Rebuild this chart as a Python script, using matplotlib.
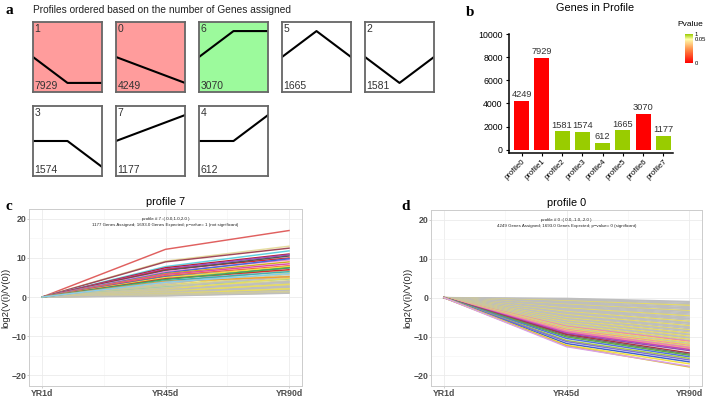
"""
plot.py

Redraws the STEM profile figure: profile boxes, gene counts and two profile line plots.
"""
import matplotlib
matplotlib.use("Agg")
import matplotlib.pyplot as plt
from matplotlib.colors import LinearSegmentedColormap, Normalize
from matplotlib.cm import ScalarMappable

plt.rcParams["font.family"] = ["Liberation Sans", "DejaVu Sans"]

W, H = 708, 398

# ---- panel a: model profiles ----
box_rows = [[1, 0, 6, 5, 2], [3, 7, 4]]
profile_shapes = {
    0: [0, -1, -2], 1: [0, -1, -1], 2: [0, -1, 0], 3: [0, 0, -1],
    4: [0, 0, 1], 5: [0, 1, 0], 6: [0, 1, 1], 7: [0, 1, 2],
}
profile_counts = {0: 4249, 1: 7929, 2: 1581, 3: 1574, 4: 612, 5: 1665, 6: 3070, 7: 1177}
profile_fill = {1: "#FF9C9C", 0: "#FF9C9C", 6: "#9CFA9C"}

# ---- panel b: genes in profile ----
bar_names = ["profile0", "profile1", "profile2", "profile3",
             "profile4", "profile5", "profile6", "profile7"]
bar_counts = [4249, 7929, 1581, 1574, 612, 1665, 3070, 1177]
bar_pvalues = [0, 0, 1, 1, 1, 1, 0, 1]

# ---- panels c / d: gene expression lines ----
time_labels = ["YR1d", "YR45d", "YR90d"]
G, K, Y, P = "#BEBEBE", "#D9D38F", "#E8DC60", "#F088A8"

# profile 7, upper coloured genes (value at YR45d, YR90d)
c_top_45 = [12.2, 9.2, 9.0, 7.8, 7.5, 7.2, 7.0, 6.8, 6.5, 6.2,
            6.0, 5.8, 5.5, 5.2, 5.0, 4.7, 4.5, 4.2, 4.0, 3.8]
c_top_90 = [17.0, 13.0, 12.5, 11.8, 11.0, 10.8, 10.0, 10.5, 9.5, 9.8,
            9.0, 8.5, 8.0, 7.5, 7.8, 7.0, 7.5, 6.5, 5.2, 6.0]
c_top_colors = ["#E0605F", "#E6DDA0", "#A04858", "#60D0E0", "#B82030",
                "#9A50C8", "#E02828", "#555555", "#F088C8", "#4466DD",
                "#CFA820", "#E048A8", "#F06848", "#3355CC", "#F2E040",
                "#D03030", "#44AA55", "#40B0B0", "#F0A030", "#88CCEE"]
# profile 7, dense lower band
c_bulk_45 = [3.6, 3.4, 3.2, 3.0, 2.9, 2.7, 2.6, 2.4, 2.3, 2.2, 2.0, 1.9, 1.8, 1.7,
             1.6, 1.5, 1.4, 1.3, 1.2, 1.1, 1.0, 0.9, 0.8, 0.7, 0.6, 0.5, 0.4, 0.3]
c_bulk_90 = [8.0, 6.8, 7.5, 6.2, 5.0, 5.8, 4.6, 5.4, 4.2, 3.8, 4.8, 3.5, 3.2, 4.0,
             3.0, 2.8, 3.3, 2.5, 2.2, 2.6, 2.0, 1.8, 2.1, 1.6, 1.4, 1.2, 1.1, 1.0]
c_bulk_colors = [G, K, G, Y, G, K, "#9ED0A0", G, K, G, Y, G, K, G,
                 K, G, Y, G, K, G, K, G, Y, G, K, G, K, G]

# profile 0, dense upper band
d_bulk_45 = [-0.2, -0.35, -0.5, -0.7, -0.85, -1.0, -1.2, -1.4, -1.6, -1.75,
             -1.9, -2.1, -2.3, -2.5, -2.7, -2.9, -3.0, -3.2, -3.4, -3.6,
             -3.8, -4.0, -4.2, -4.4, -4.6, -4.8, -5.0, -5.2, -5.4, -5.6,
             -5.8, -6.0, -6.2, -6.4, -6.6, -6.8, -7.0, -7.2, -7.4, -7.6,
             -7.8, -8.0, -8.2, -8.4, -8.6, -8.8, -9.0]
d_bulk_90 = [-1.0, -1.2, -1.5, -1.8, -2.0, -2.3, -2.6, -2.8, -3.1, -3.4,
             -3.6, -3.9, -4.2, -4.5, -4.7, -5.0, -5.3, -5.5, -5.8, -6.1,
             -6.4, -6.6, -6.9, -7.2, -7.5, -7.7, -8.0, -8.3, -8.5, -8.8,
             -9.1, -9.4, -9.6, -9.9, -10.2, -10.4, -10.7, -11.0, -11.2, -11.5,
             -11.8, -12.0, -12.3, -12.5, -12.7, -12.9, -13.1]
d_bulk_colors = [G, G, G, G, Y, G, G, G, G, Y, G, G, G, G, Y, G,
                 G, G, G, Y, G, G, G, Y, G, G, G, Y, G, G, Y, G,
                 G, Y, G, G, Y, G, P, Y, G, Y, P, Y, G, Y, Y]
# profile 0, lower coloured genes
d_low_45 = [-8.6, -9.0, -9.3, -9.5, -9.8, -10.1, -10.5, -11.0, -11.3, -11.8, -12.2, -12.4, -12.6]
d_low_90 = [-12.8, -13.3, -13.6, -14.2, -14.5, -14.8, -15.2, -15.6, -16.0, -16.5, -17.0, -17.8, -17.6]
d_low_colors = ["#F080B0", "#D040C0", "#9050B0", "#B03040", "#707070", "#60B040",
                "#5070E0", "#A8C840", "#8070D0", "#4060D0", "#F2E040", "#E0C020", "#D8A0E8"]


def px_axes(fig, left, top, right, bottom):
    return fig.add_axes([left / W, 1 - bottom / H, (right - left) / W, (bottom - top) / H])


fig = plt.figure(figsize=(W / 100, H / 100), dpi=100)

# ============================================
#         panel a
# ============================================
label_font = dict(family=["Liberation Serif", "DejaVu Serif"], fontweight="bold", fontsize=11)
fig.text(6 / W, 1 - 11 / H, "a", va="center", **label_font)
fig.text(33 / W, 1 - 10 / H, "Profiles ordered based on the number of Genes assigned",
         fontsize=7.3, va="center", color="#222222")

col_left = [33, 116, 199, 282, 365]
row_top = [22, 106]
for r, row in enumerate(box_rows):
    for c, pid in enumerate(row):
        ax = px_axes(fig, col_left[c], row_top[r], col_left[c] + 69, row_top[r] + 70)
        shape = profile_shapes[pid]
        m = max(abs(v) for v in shape)
        ax.plot([0, 1, 2], shape, color="black", lw=1.5)
        ax.set_xlim(0, 2)
        ax.set_ylim(-1.35 * m, 1.35 * m)
        ax.set_facecolor(profile_fill.get(pid, "white"))
        ax.set_xticks([])
        ax.set_yticks([])
        for s in ax.spines.values():
            s.set_color("#666666")
            s.set_linewidth(1.3)
        ax.text(0.02, 0.97, str(pid), transform=ax.transAxes, ha="left", va="top",
                fontsize=7.5, color="#333333")
        ax.text(0.02, 0.01, str(profile_counts[pid]), transform=ax.transAxes,
                ha="left", va="bottom", fontsize=7.5, color="#333333")

# ============================================
#         panel b
# ============================================
fig.text(466 / W, 1 - 12 / H, "b", va="center", **label_font)
pcmap = LinearSegmentedColormap.from_list(
    "pval", [(0, "#FF0000"), (0.45, "#FF8844"), (0.72, "#FFDD90"),
             (0.82, "#FFFFA8"), (1, "#99CC00")])
pnorm = Normalize(0, 1)

axb = px_axes(fig, 509, 34, 673, 153)
axb.bar(range(len(bar_names)), bar_counts, width=0.74,
        color=[pcmap(pnorm(p)) for p in bar_pvalues])
for i, v in enumerate(bar_counts):
    axb.text(i, v + 150, str(v), ha="center", va="bottom", fontsize=6.7, color="#333333")
axb.set_ylim(-280, 10000)
axb.set_xlim(-0.62, 7.47)
axb.set_yticks([0, 2000, 4000, 6000, 8000, 10000])
axb.tick_params(axis="y", labelsize=6.3, length=2.5, width=0.8, pad=2)
axb.set_xticks(range(len(bar_names)))
axb.set_xticklabels(bar_names, rotation=45, ha="right", rotation_mode="anchor",
                    fontsize=5.6)
axb.tick_params(axis="x", length=2, width=0.8, pad=1.5)
for s in ["top", "right"]:
    axb.spines[s].set_visible(False)
axb.spines["left"].set_linewidth(1.1)
axb.spines["bottom"].set_linewidth(1.1)
fig.text(595 / W, 1 - 8 / H, "Genes in Profile", ha="center", va="center", fontsize=7.8)

cax = px_axes(fig, 685, 34, 693, 63)
cb = fig.colorbar(ScalarMappable(norm=pnorm, cmap=pcmap), cax=cax)
cb.outline.set_visible(False)
cb.set_ticks([0, 0.82, 1])
cb.set_ticklabels(["0", "0.05", "1"])
cax.tick_params(labelsize=4.2, length=0, pad=1)
fig.text(677 / W, 1 - 25 / H, "Pvalue", va="center", fontsize=6)


# ============================================
#         panels c and d
# ============================================
def line_panel(ax, groups, title, line1, line2):
    for ys45, ys90, cols in groups:
        for a, b, col in zip(ys45, ys90, cols):
            ax.plot(range(3), [0, a, b], color=col, lw=1.05)
    ax.set_xlim(-0.105, 2.105)
    ax.set_ylim(-22.7, 22.5)
    ax.set_xticks(range(3))
    ax.set_xticklabels(time_labels)
    ax.set_xticks([0.5, 1.5], minor=True)
    ax.set_yticks([-20, -10, 0, 10, 20])
    ax.set_yticks([-15, -5, 5, 15], minor=True)
    ax.grid(which="major", color="#EBEBEB", lw=0.6)
    ax.grid(which="minor", color="#F4F4F4", lw=0.4)
    ax.set_axisbelow(True)
    ax.tick_params(which="major", labelsize=6.3, length=1.2, width=0.5,
                   color="#BBBBBB", labelcolor="#4D4D4D", pad=0.8)
    ax.tick_params(which="minor", length=0)
    for lab in ax.get_xticklabels() + ax.get_yticklabels():
        lab.set_fontweight("bold")
    for s in ax.spines.values():
        s.set_color("#CCCCCC")
        s.set_linewidth(0.7)
    ax.set_ylabel("log2(V(i)/V(0))", fontsize=6.8, color="#222222", labelpad=0.5)
    ax.set_title(title, fontsize=7.8, pad=3)
    ax.text(0.5, 0.945, line1, transform=ax.transAxes, ha="center", va="center",
            fontsize=3.2, color="#222222")
    ax.text(0.5, 0.91, line2, transform=ax.transAxes, ha="center", va="center",
            fontsize=3.2, color="#222222")


fig.text(5 / W, 1 - 206 / H, "c", va="center", **label_font)
axc = px_axes(fig, 29, 209, 302, 386)
line_panel(axc, [(c_bulk_45, c_bulk_90, c_bulk_colors),
                 (c_top_45, c_top_90, c_top_colors)],
           "profile 7", "profile # 7 :( 0.0,1.0,2.0 )",
           "1177 Genes Assigned; 1693.0 Genes Expected; p\u2212value= 1 (not significant)")

fig.text(401 / W, 1 - 206 / H, "d", va="center", **label_font)
axd = px_axes(fig, 431, 210, 702, 386)
line_panel(axd, [(d_bulk_45, d_bulk_90, d_bulk_colors),
                 (d_low_45, d_low_90, d_low_colors)],
           "profile 0", "profile # 0 :( 0.0,-1.0,-2.0 )",
           "4249 Genes Assigned; 1693.0 Genes Expected; p\u2212value= 0 (significant)")

fig.savefig("out.png", dpi=100)
